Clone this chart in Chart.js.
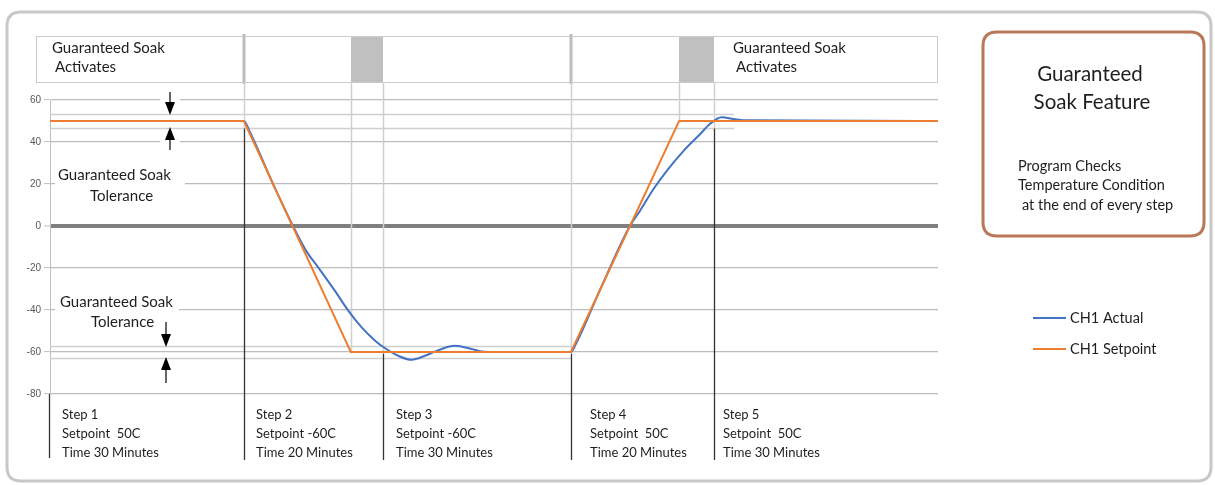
<!DOCTYPE html>
<html>
<head>
<meta charset="utf-8">
<script src="https://cdn.jsdelivr.net/npm/chart.js@4"></script>
<style>
	body { margin: 0; background: #fff; }
	canvas { display: block; }
</style>
</head>
<body>
<canvas id="chartcanvas" width="1215" height="485"></canvas>
<script>
//setpoint profile (time in minutes, temp in C)
var setTime = [0, 30.3, 47, 81.4, 98.3, 138.75];
var setTemp = [50, 50, -60, -60, 50, 50];

//actual temperature
var actTime = [0, 30.3, 31.2, 35, 38.3, 40.1, 41.9, 44.5, 46.6, 48.7, 50.8, 52.3, 54.4, 56.5, 58.6, 60.7, 63.3, 65.9, 67.4, 70, 81.4, 82.2, 86, 90.6, 92.2, 94.3, 96.4, 99, 101.6, 103.1, 104.95, 106.8, 108.9, 138.75];
var actTemp = [50, 50, 45, 19, -2, -12.2, -19.7, -30.8, -40.3, -48.3, -54.6, -58.1, -61.8, -63.7, -61.8, -59.1, -57, -58.6, -59.7, -60, -60, -56, -30, 0, 7.3, 17.6, 26.4, 35.8, 43.8, 48.6, 51.8, 51, 50.3, 50];

//y axis ticks
var yTicks = [-80, -60, -40, -20, 0, 20, 40, 60];

//step boundaries and soak wait windows (minutes)
var stepEnds = [30.3, 52, 81.4, 103.75];
var soakWindows = [[47, 52], [98.3, 103.75]];
var tolUpper = [53.5, 46.5];
var tolLower = [-57, -63];

var steps = [
	["Step 1", "Setpoint  50C", "Time 30 Minutes"],
	["Step 2", "Setpoint -60C", "Time 20 Minutes"],
	["Step 3", "Setpoint -60C", "Time 30 Minutes"],
	["Step 4", "Setpoint  50C", "Time 20 Minutes"],
	["Step 5", "Setpoint  50C", "Time 30 Minutes"]
];

function toPoints(xs, ys) {
	var out = [];
	for (var i = 0; i < xs.length; i++) {
		out.push({ x: xs[i], y: ys[i] });
	}
	return out;
}

function line(ctx, x1, y1, x2, y2, color, w) {
	ctx.save();
	ctx.strokeStyle = color;
	ctx.lineWidth = w;
	ctx.beginPath();
	ctx.moveTo(x1, y1);
	ctx.lineTo(x2, y2);
	ctx.stroke();
	ctx.restore();
}

//arrow with filled head, tip at yTip
function arrow(ctx, x, yTail, yTip) {
	var dir = yTip > yTail ? 1 : -1;
	line(ctx, x, yTail, x, yTip - dir * 10, "#000", 1.2);
	ctx.save();
	ctx.fillStyle = "#000";
	ctx.beginPath();
	ctx.moveTo(x, yTip);
	ctx.lineTo(x - 5, yTip - dir * 13);
	ctx.lineTo(x + 5, yTip - dir * 13);
	ctx.closePath();
	ctx.fill();
	ctx.restore();
}

function roundRect(ctx, x, y, w, h, r) {
	ctx.beginPath();
	ctx.moveTo(x + r, y);
	ctx.lineTo(x + w - r, y);
	ctx.quadraticCurveTo(x + w, y, x + w, y + r);
	ctx.lineTo(x + w, y + h - r);
	ctx.quadraticCurveTo(x + w, y + h, x + w - r, y + h);
	ctx.lineTo(x + r, y + h);
	ctx.quadraticCurveTo(x, y + h, x, y + h - r);
	ctx.lineTo(x, y + r);
	ctx.quadraticCurveTo(x, y, x + r, y);
	ctx.closePath();
}

function text(ctx, s, x, y, size, align) {
	ctx.save();
	ctx.fillStyle = "#1e1e1e";
	ctx.font = size + "px Lato";
	ctx.textAlign = align || "left";
	ctx.textBaseline = "middle";
	ctx.fillText(s, x, y);
	ctx.restore();
}

//draws the frame, soak boxes, step lines and notes
var soakPlugin = {
	id: "soakNotes",
	beforeDraw: function(chart) {
		var ctx = chart.ctx;
		ctx.save();
		ctx.fillStyle = "#fff";
		ctx.fillRect(0, 0, chart.width, chart.height);
		//outer frame
		ctx.strokeStyle = "#c8c8c8";
		ctx.lineWidth = 3;
		roundRect(ctx, 7, 12, 1204, 469, 14);
		ctx.stroke();
		ctx.restore();
	},
	beforeDatasetsDraw: function(chart) {
		var ctx = chart.ctx;
		var xs = chart.scales.x, ys = chart.scales.y;
		var left = chart.chartArea.left;
		var px = function(t) { return Math.round(xs.getPixelForValue(t)); };
		var py = function(v) { return Math.round(ys.getPixelForValue(v)) + 0.5; };

		//tolerance lines
		line(ctx, left, py(tolUpper[0]), px(stepEnds[3]) + 20, py(tolUpper[0]), "#cfcfcf", 1.5);
		line(ctx, left, py(tolUpper[1]), px(stepEnds[3]) + 20, py(tolUpper[1]), "#cfcfcf", 1.5);
		line(ctx, left, py(tolLower[0]), px(stepEnds[2]), py(tolLower[0]), "#cfcfcf", 1.5);
		line(ctx, left, py(tolLower[1]), px(stepEnds[2]), py(tolLower[1]), "#cfcfcf", 1.5);

		//top box
		ctx.save();
		ctx.strokeStyle = "#cccccc";
		ctx.lineWidth = 1;
		ctx.strokeRect(36.5, 36.5, 901, 46);
		ctx.fillStyle = "#c0c0c0";
		for (var i = 0; i < soakWindows.length; i++) {
			var a = px(soakWindows[i][0]), b = px(soakWindows[i][1]);
			ctx.fillRect(a, 37, b - a, 45);
		}
		ctx.restore();
		line(ctx, px(stepEnds[0]), 34, px(stepEnds[0]), 84, "#bdbdbd", 3);
		line(ctx, px(stepEnds[2]), 34, px(stepEnds[2]), 84, "#bdbdbd", 3);
		text(ctx, "Guaranteed Soak", 52, 48, 15);
		text(ctx, "Activates", 55, 67, 15);
		text(ctx, "Guaranteed Soak", 733, 48, 15);
		text(ctx, "Activates", 736, 67, 15);

		//light guide lines from the top box
		var yTop = py(tolUpper[1]), yLow = py(-60);
		line(ctx, px(stepEnds[0]) + 0.5, 82, px(stepEnds[0]) + 0.5, yTop, "#d0d0d0", 1.5);
		line(ctx, px(soakWindows[0][0]) + 0.5, 82, px(soakWindows[0][0]) + 0.5, yLow, "#d0d0d0", 1.5);
		line(ctx, px(stepEnds[1]) + 0.5, 82, px(stepEnds[1]) + 0.5, yLow, "#d0d0d0", 1.5);
		line(ctx, px(stepEnds[2]) + 0.5, 82, px(stepEnds[2]) + 0.5, yLow, "#d0d0d0", 1.5);
		line(ctx, px(soakWindows[1][0]) + 0.5, 82, px(soakWindows[1][0]) + 0.5, py(50), "#d0d0d0", 1.5);
		line(ctx, px(stepEnds[3]) + 0.5, 82, px(stepEnds[3]) + 0.5, yTop, "#d0d0d0", 1.5);

		//black step lines down to the step notes
		var yEnd = 460;
		line(ctx, left - 0.5, chart.chartArea.bottom, left - 0.5, yEnd - 2, "#333", 1.3);
		line(ctx, px(stepEnds[0]) + 0.5, yTop, px(stepEnds[0]) + 0.5, yEnd, "#333", 1.3);
		line(ctx, px(stepEnds[1]) + 0.5, yLow + 1, px(stepEnds[1]) + 0.5, yEnd, "#333", 1.3);
		line(ctx, px(stepEnds[2]) + 0.5, yLow + 1, px(stepEnds[2]) + 0.5, yEnd, "#333", 1.3);
		line(ctx, px(stepEnds[3]) + 0.5, yTop, px(stepEnds[3]) + 0.5, yEnd, "#333", 1.3);

		//step notes
		var noteX = [62, 256, 396, 590, 723];
		for (var s = 0; s < steps.length; s++) {
			for (var k = 0; k < 3; k++) {
				text(ctx, steps[s][k], noteX[s], 415 + k * 19, 13);
			}
		}

		//tolerance labels with white gaps in the grid
		ctx.save();
		ctx.fillStyle = "#fff";
		ctx.fillRect(55, 165, 130, 40);
		ctx.fillRect(55, 292, 124, 40);
		ctx.fillRect(160, 95, 20, 10);
		ctx.fillRect(160, 137, 20, 10);
		ctx.restore();
		text(ctx, "Guaranteed Soak", 58, 175, 15);
		text(ctx, "Tolerance", 90, 196, 15);
		text(ctx, "Guaranteed Soak", 60, 302, 15);
		text(ctx, "Tolerance", 91, 322, 15);
		arrow(ctx, 170, 92, 115);
		arrow(ctx, 170, 150, 127);
		arrow(ctx, 166, 322, 347);
		arrow(ctx, 166, 383, 357);
	},
	afterDraw: function(chart) {
		var ctx = chart.ctx;
		//right note box
		ctx.save();
		ctx.strokeStyle = "#b9785a";
		ctx.lineWidth = 3;
		roundRect(ctx, 983, 32, 221, 204, 14);
		ctx.stroke();
		ctx.restore();
		text(ctx, "Guaranteed", 1090, 74, 20.5, "center");
		text(ctx, "Soak Feature", 1092, 102, 20.5, "center");
		text(ctx, "Program Checks", 1018, 166, 14.5);
		text(ctx, "Temperature Condition", 1018, 185, 14.5);
		text(ctx, "at the end of every step", 1022, 205, 14.5);

		//legend from the datasets
		var ds = chart.data.datasets;
		for (var i = 0; i < ds.length; i++) {
			var y = 318 + i * 31;
			line(ctx, 1033, y, 1066, y, ds[i].borderColor, 2);
			text(ctx, ds[i].label, 1070, y, 14.5);
		}
	}
};

var ctx = document.getElementById("chartcanvas");
var chart = new Chart(ctx, {
	type: "line",
	data: {
		datasets: [
			{
				label: "CH1 Actual",
				data: toPoints(actTime, actTemp),
				borderColor: "#4472c4",
				borderWidth: 2,
				pointRadius: 0,
				cubicInterpolationMode: "monotone",
				fill: false,
				order: 1
			},
			{
				label: "CH1 Setpoint",
				data: toPoints(setTime, setTemp),
				borderColor: "#ed7d31",
				borderWidth: 2,
				pointRadius: 0,
				tension: 0,
				fill: false,
				order: 0
			}
		]
	},
	options: {
		responsive: false,
		animation: false,
		devicePixelRatio: 1,
		layout: {
			autoPadding: false,
			padding: { left: 10, top: 100, right: 277, bottom: 91 }
		},
		plugins: {
			legend: { display: false },
			tooltip: { enabled: false }
		},
		scales: {
			x: {
				type: "linear",
				min: setTime[0],
				max: setTime[setTime.length - 1],
				display: false
			},
			y: {
				min: yTicks[0],
				max: yTicks[yTicks.length - 1],
				afterFit: function(scale) { scale.width = 40; },
				afterBuildTicks: function(scale) {
					scale.ticks = yTicks.map(function(v) { return { value: v }; });
				},
				ticks: {
					font: { family: "Liberation Sans", size: 10 },
					color: "#595959",
					padding: 3
				},
				grid: {
					color: function(c) { return c.tick && c.tick.value === 0 ? "#7f7f7f" : "#bcbcbc"; },
					lineWidth: function(c) { return c.tick && c.tick.value === 0 ? 4 : 1.2; },
					tickColor: "#bfbfbf",
					tickWidth: 1,
					tickLength: 6
				},
				border: { color: "#bfbfbf", width: 1 }
			}
		}
	},
	plugins: [soakPlugin]
});
</script>
</body>
</html>
